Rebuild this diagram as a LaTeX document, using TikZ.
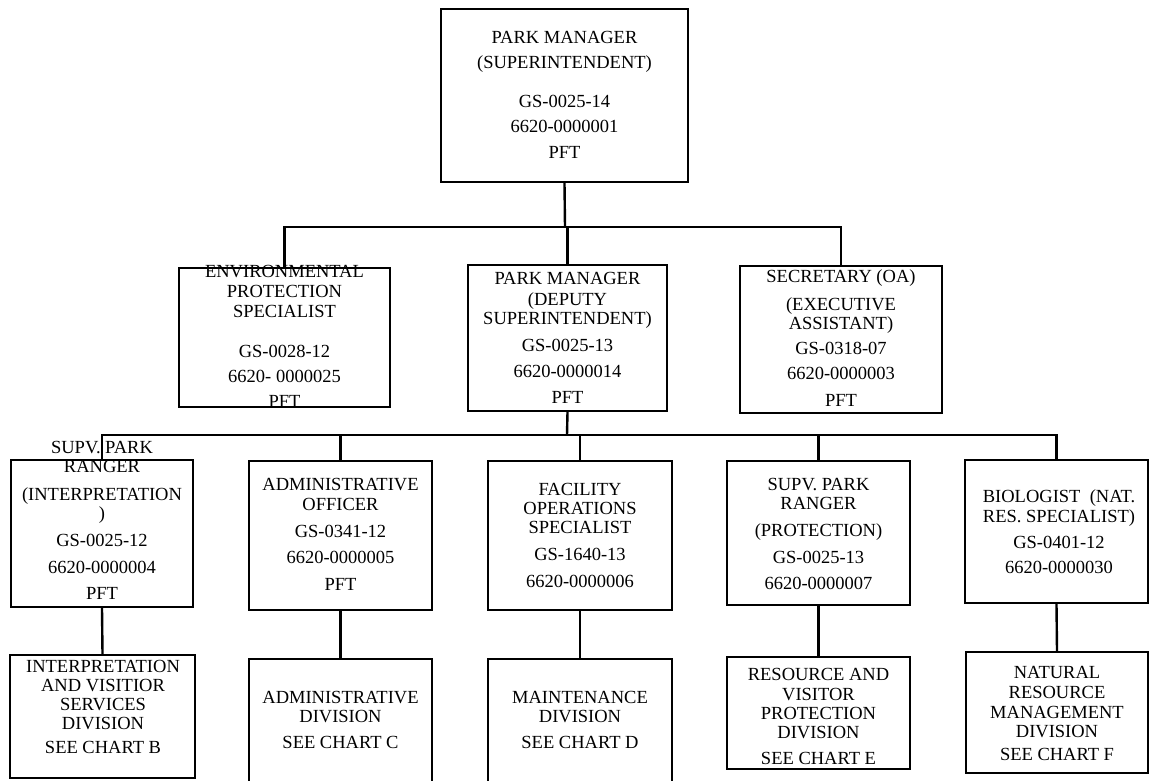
\documentclass[tikz,border=0pt]{standalone}
\usepackage{fontspec}
\setmainfont{Liberation Serif}
\newcommand{\boxlines}[1]{\begin{tabular}[t]{@{}c@{}}#1\end{tabular}}
\begin{document}
\begin{tikzpicture}[x=1pt,y=-1pt,
  pbox/.style={draw, line width=2.4pt, inner sep=0pt},
  link/.style={line width=2.4pt},
  txt/.style={anchor=base, inner sep=0pt, font=\fontsize{18.5}{19}\selectfont}]
\useasboundingbox (0,0) rectangle (1149,780);
\clip (0,0) rectangle (1149,780);
% boxes
\node[pbox, minimum width=247pt, minimum height=173pt] (top) at (564.5,95.5) {};
\node[pbox, minimum width=211pt, minimum height=139pt] (env) at (284.5,337.5) {};
\node[pbox, minimum width=199pt, minimum height=146pt] (dep) at (567.5,338) {};
\node[pbox, minimum width=202pt, minimum height=147pt] (sec) at (841,339.5) {};
\node[pbox, minimum width=182pt, minimum height=147pt] (b1) at (102,533.5) {};
\node[pbox, minimum width=183pt, minimum height=149pt] (b2) at (340.5,535.5) {};
\node[pbox, minimum width=184pt, minimum height=149pt] (b3) at (580,535.5) {};
\node[pbox, minimum width=183pt, minimum height=144pt] (b4) at (818.5,533) {};
\node[pbox, minimum width=183pt, minimum height=143pt] (b5) at (1056.5,531.5) {};
\node[pbox, minimum width=185pt, minimum height=123pt] (l1) at (102.5,716.5) {};
\node[pbox, minimum width=183pt, minimum height=141pt] (l2) at (340.5,729.5) {};
\node[pbox, minimum width=184pt, minimum height=141pt] (l3) at (580,729.5) {};
\node[pbox, minimum width=183pt, minimum height=112pt] (l4) at (818.5,713) {};
\node[pbox, minimum width=182pt, minimum height=121pt] (l5) at (1057,712.5) {};
% buses
\coordinate (bus1) at (565,227);
\coordinate (bus2) at (567,435);
% connectors
\draw[link] (top.south) -- (bus1);
\draw[link] (env.north) -- (env.north |- bus1) -- (sec.north |- bus1) -- (sec.north);
\draw[link] (dep.north) -- (dep.north |- bus1);
\draw[link] (dep.south) -- (bus2);
\draw[link] (b1.north) -- (b1.north |- bus2) -- (b5.north |- bus2) -- (b5.north);
\draw[link] (b2.north) -- (b2.north |- bus2);
\draw[link] (b3.north) -- (b3.north |- bus2);
\draw[link] (b4.north) -- (b4.north |- bus2);
\draw[link] (b1.south) -- (l1.north);
\draw[link] (b2.south) -- (l2.north);
\draw[link] (b3.south) -- (l3.north);
\draw[link] (b4.south) -- (l4.north);
\draw[link] (b5.south) -- (l5.north);
% texts
\node[txt] (ttop) at (564.5,43) {\boxlines{PARK MANAGER\\[6pt](SUPERINTENDENT)\\[20pt]GS-0025-14\\[6pt]6620-0000001\\[7pt]PFT}};
\node[txt] (tenv) at (284.5,277) {\boxlines{ENVIRONMENTAL\\[1pt]PROTECTION\\[1pt]SPECIALIST\\[21pt]GS-0028-12\\[6pt]6620- 0000025\\[6pt]PFT}};
\node[txt] (tdep) at (567.5,284) {\boxlines{PARK MANAGER\\[2pt](DEPUTY\\SUPERINTENDENT)\\[8pt]GS-0025-13\\[7pt]6620-0000014\\[7pt]PFT}};
\node[txt] (tsec) at (841,282) {\boxlines{SECRETARY (OA)\\[9pt](EXECUTIVE\\ASSISTANT)\\[6pt]GS-0318-07\\[6pt]6620-0000003\\[8pt]PFT}};
\node[txt] (tb1) at (102,453) {\boxlines{SUPV. PARK\\RANGER\\[9pt](INTERPRETATION\\)\\[8pt]GS-0025-12\\[8pt]6620-0000004\\[7pt]PFT}};
\node[txt] (tb2) at (340.5,490) {\boxlines{ADMINISTRATIVE\\[1pt]OFFICER\\[8pt]GS-0341-12\\[7pt]6620-0000005\\[8pt]PFT}};
\node[txt] (tb3) at (580,495) {\boxlines{FACILITY\\OPERATIONS\\SPECIALIST\\[8pt]GS-1640-13\\[8pt]6620-0000006}};
\node[txt] (tb4) at (818.5,490) {\boxlines{SUPV. PARK\\RANGER\\[8pt](PROTECTION)\\[8pt]GS-0025-13\\[7pt]6620-0000007}};
\node[txt] (tb5) at (1059,502) {\boxlines{BIOLOGIST\ \ (NAT.\\[1pt]RES. SPECIALIST)\\[7pt]GS-0401-12\\[6pt]6620-0000030}};
\node[txt] (tl1) at (103,672) {\boxlines{INTERPRETATION\\AND VISITIOR\\SERVICES\\DIVISION\\[5pt]SEE CHART B}};
\node[txt] (tl2) at (340.5,703) {\boxlines{ADMINISTRATIVE\\DIVISION\\[7pt]SEE CHART C}};
\node[txt] (tl3) at (580,703) {\boxlines{MAINTENANCE\\DIVISION\\[7pt]SEE CHART D}};
\node[txt] (tl4) at (818.5,680) {\boxlines{RESOURCE AND\\[1pt]VISITOR\\PROTECTION\\DIVISION\\[7pt]SEE CHART E}};
\node[txt] (tl5) at (1057,678) {\boxlines{NATURAL\\[1pt]RESOURCE\\[1pt]MANAGEMENT\\DIVISION\\[4pt]SEE CHART F}};
\end{tikzpicture}
\end{document}
